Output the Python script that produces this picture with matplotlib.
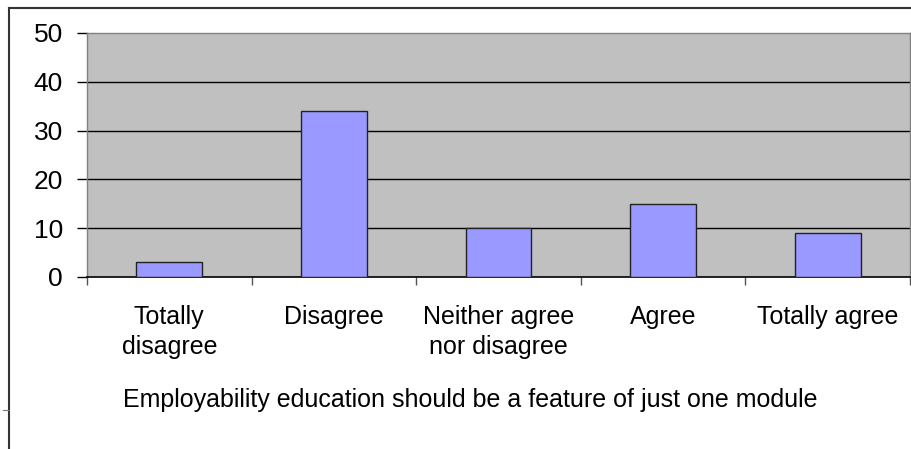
import matplotlib.pyplot as plt
import numpy as np

plt.rcParams['font.family'] = ['Liberation Sans', 'DejaVu Sans']

categories = ['Totally\ndisagree', 'Disagree', 'Neither agree\nnor disagree', 'Agree', 'Totally agree']
counts = [3, 34, 10, 15, 9]
yticks = [0, 10, 20, 30, 40, 50]
xlabel = 'Employability education should be a feature of just one module'

W, H = 912, 449
PT = 0.72  # points per pixel at dpi 100
fig = plt.figure(figsize=(W / 100, H / 100), dpi=100)

# plot area in pixel coords
left, right, top, bottom = 87, 910, 33, 277
ax = fig.add_axes([left / W, 1 - bottom / H, (right - left) / W, (bottom - top) / H])
ax.set_facecolor('#c0c0c0')

x = np.arange(len(categories))
ax.bar(x, counts, width=0.4, color='#9999ff', edgecolor='#222222', linewidth=1.0, zorder=3)

ax.set_xlim(-0.5, len(categories) - 0.5)
ax.set_ylim(0, 50)
ax.set_yticks(yticks)
ax.set_yticklabels([str(v) for v in yticks], fontsize=19)
for v in yticks[1:-1]:
    ax.axhline(v, color='black', linewidth=1.0, zorder=2)

# category labels sit between boundary ticks
ax.set_xticks(np.arange(len(categories) + 1) - 0.5)
ax.set_xticklabels([])
ax.tick_params(axis='x', length=8 * PT, width=1, color='#555555', direction='out')
ax.tick_params(axis='y', length=10 * PT, width=1, color='black', pad=14 * PT)

fx = lambda px: px / W
fy = lambda py: 1 - py / H
for i, lab in enumerate(categories):
    cx = left + (i + 0.5) * (right - left) / len(categories)
    fig.text(fx(cx), fy(305), lab, ha='center', va='top', fontsize=18, linespacing=1.3)

fig.text(fx(470), fy(407), xlabel, ha='center', va='baseline', fontsize=18)

for side in ('left', 'top', 'right'):
    ax.spines[side].set_color('#808080')
    ax.spines[side].set_linewidth(1.0)
ax.spines['bottom'].set_color('black')
ax.spines['bottom'].set_linewidth(1.2)

# outer chart frame (top and left edges)
fig.add_artist(plt.Line2D([fx(9), 1], [fy(8), fy(8)], color='#333333', linewidth=1.5))
fig.add_artist(plt.Line2D([fx(9), fx(9)], [0, fy(8)], color='#333333', linewidth=1.5))
fig.add_artist(plt.Line2D([fx(3), fx(9)], [fy(410), fy(410)], color='#777777', linewidth=0.8))

fig.savefig('out.png', dpi=100)
